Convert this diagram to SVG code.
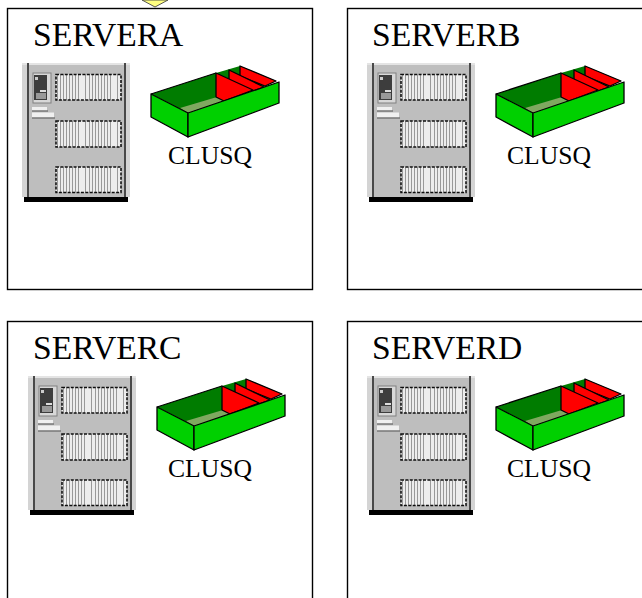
<svg xmlns="http://www.w3.org/2000/svg" width="642" height="598" viewBox="0 0 642 598">
<style>
.frame{fill:#fff;stroke:#000;stroke-width:1.4}
.title{font-family:"Liberation Serif","Times New Roman",serif;font-size:33.6px;fill:#000}
.qlabel{font-family:"Liberation Serif","Times New Roman",serif;font-size:25.6px;fill:#000}
.grille{fill:url(#slats);stroke:#111;stroke-width:1.6;stroke-dasharray:3 1.4}
.edge{stroke:#000;stroke-width:1.3;stroke-linejoin:round}
</style>
<defs>
<filter id="soft" x="-5%" y="-5%" width="110%" height="110%"><feGaussianBlur stdDeviation="0.35"/></filter>
<pattern id="slats" patternUnits="userSpaceOnUse" width="32" height="4" x="56">
<rect width="32" height="4" fill="#ededed"/>
<rect x="1" width="1" height="4" fill="#999"/><rect x="4" width="1" height="4" fill="#999"/><rect x="7" width="1" height="4" fill="#999"/><rect x="10" width="1" height="4" fill="#999"/><rect x="13" width="1" height="4" fill="#999"/><rect x="16" width="1" height="4" fill="#999"/><rect x="19" width="1" height="4" fill="#999"/><rect x="22" width="1" height="4" fill="#999"/><rect x="29" width="1" height="4" fill="#999"/>
</pattern>
<g id="server" filter="url(#soft)">
<rect x="22" y="63" width="108" height="134" fill="#bebebe"/>
<rect x="22" y="63" width="108" height="2" fill="#e4e4e4"/>
<rect x="22" y="65" width="5" height="132" fill="#d4d4d4"/>
<rect x="126" y="65" width="4" height="132" fill="#d4d4d4"/>
<rect x="27" y="63" width="2" height="137" fill="#4a4a4a"/>
<rect x="124" y="63" width="2" height="134" fill="#4a4a4a"/>
<rect x="24" y="197" width="104" height="5" fill="#000"/>
<rect x="33" y="73" width="18" height="30" fill="#d8d8d8" stroke="#808080"/>
<rect x="34" y="75" width="13" height="25" fill="#3c3c3c"/>
<rect x="35" y="77" width="3" height="3" fill="#ccc"/>
<rect x="40" y="90" width="6" height="2" fill="#ddd"/>
<rect x="36" y="93" width="10" height="6" fill="#999"/>
<rect x="32" y="107" width="15" height="3.500" fill="#f0f0f0"/>
<rect x="32" y="110.500" width="16" height="1" fill="#555"/>
<rect x="32" y="112.500" width="22" height="5" fill="#f0f0f0"/>
<rect x="32" y="117.500" width="23" height="1" fill="#555"/>
<rect class="grille" x="56" y="74.500" width="65" height="25.500"/>
<rect class="grille" x="56" y="121" width="65" height="26"/>
<rect class="grille" x="56" y="167" width="65" height="25.500"/>
</g>
<g id="queue" filter="url(#soft)">
<polygon points="151,94 216,73 240,66 276,81 188,113" fill="#007c00"/>
<polygon points="180,108 217,97 224,101 188,113" fill="#7fa860"/>
<polygon class="edge" points="240,66 276,81 265,86 240,76" fill="#f00"/>
<polygon class="edge" points="229,70 264,87 253,91 229,81" fill="#f00"/>
<polygon class="edge" points="216,73 253,90 224,101 216,97" fill="#f00"/>
<polygon class="edge" points="151,94 188,113 188,137 151,117" fill="#00d000"/>
<polygon class="edge" points="188,113 279,82 279,103 188,137" fill="#00d000"/>
<polyline class="edge" points="151,94 216,73" fill="none"/>
</g>
</defs>
<g id="connectors"></g>
<polygon id="top-marker" points="142,0 168,0 155,7" fill="#ffff80" stroke="#444" stroke-width="0.9"/>
<g id="servera">
<rect class="frame" x="7.500" y="8.500" width="305" height="281"/>
<text class="title" x="33" y="46">SERVERA</text>
<use href="#server"/><use href="#queue"/>
<text class="qlabel" x="168" y="164">CLUSQ</text>
</g>
<g id="serverb">
<rect class="frame" x="347.500" y="8.500" width="305" height="281"/>
<text class="title" x="372" y="46">SERVERB</text>
<use href="#server" x="345"/><use href="#queue" x="345"/>
<text class="qlabel" x="507" y="164">CLUSQ</text>
</g>
<g id="serverc">
<rect class="frame" x="7.500" y="321.500" width="305" height="290"/>
<text class="title" x="33" y="359">SERVERC</text>
<use href="#server" x="6" y="313"/><use href="#queue" x="6" y="313"/>
<text class="qlabel" x="168" y="477">CLUSQ</text>
</g>
<g id="serverd">
<rect class="frame" x="347.500" y="321.500" width="305" height="290"/>
<text class="title" x="372" y="359">SERVERD</text>
<use href="#server" x="345" y="313"/><use href="#queue" x="345" y="313"/>
<text class="qlabel" x="507" y="477">CLUSQ</text>
</g>
</svg>
